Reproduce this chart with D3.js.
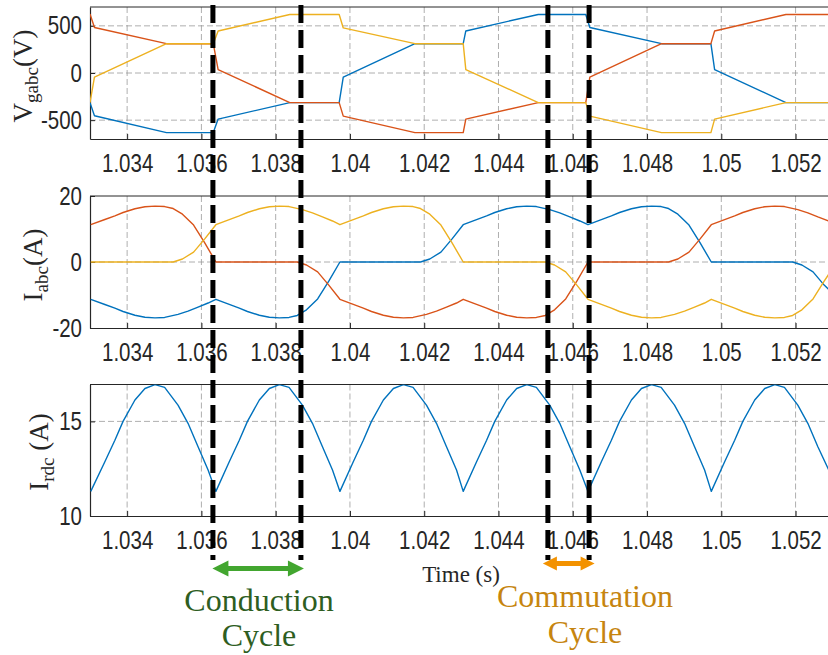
<!DOCTYPE html>
<html>
<head>
<meta charset="utf-8">
<script src="https://d3js.org/d3.v7.min.js"></script>
<style>
    body { margin: 0; background: #fff; }
    .tick text {
        font-family: "Liberation Sans", Arial, sans-serif;
        font-size: 25px;
        fill: #262626;
    }
    .axis path, .axis line { stroke: #262626; }
    .gridLine { stroke: #9a9a9a; stroke-width: 0.8; stroke-dasharray: 6,3; }
    .serif { font-family: "Liberation Serif", "Times New Roman", serif; }
</style>
</head>
<body>
<script>
(function(){

    // x axis
    var xTicks = [1.034, 1.036, 1.038, 1.04, 1.042, 1.044, 1.046, 1.048, 1.05, 1.052];
    var xTickLabels = ["1.034", "1.036", "1.038", "1.04", "1.042", "1.044", "1.046", "1.048", "1.05", "1.052"];

    // panel 1: V_gabc
    var vTime = [1.0330, 1.03312, 1.03506, 1.03632, 1.03645, 1.03838, 1.03971, 1.03982, 1.04175, 1.04305,
                 1.04312, 1.04507, 1.04635, 1.04646, 1.04839, 1.04972, 1.04982, 1.05174, 1.0529];
    var vgA = [-314, -454, -632, -632, -489, -314, -314, -43, 311, 311, 446, 621, 621, 482, 311, 311, 36, -314, -314];
    var vgB = [625, 482, 311, 311, 36, -314, -314, -457, -632, -632, -489, -314, -314, -43, 311, 311, 446, 621, 621];
    var vgC = [-314, -43, 311, 311, 446, 621, 621, 478, 311, 311, 36, -314, -314, -457, -632, -632, -489, -314, -314];
    var vTicks = [-500, 0, 500];
    var vTickLabels = ["-500", "0", "500"];

    // panel 2: I_abc  [time, value]
    var iA = [[1.03302,-11.3],[1.0334,-12.87],[1.03367,-14.0],[1.03389,-15.0],[1.03421,-16.13],[1.03448,-16.74],[1.03475,-16.94],[1.03501,-16.8],[1.03537,-15.86],[1.03564,-14.9],[1.03591,-13.66],[1.03618,-12.43],[1.03639,-11.3],
        [1.03675,-12.87],[1.03702,-14.0],[1.03724,-15.0],[1.03756,-16.13],[1.03783,-16.74],[1.0381,-16.94],[1.03836,-16.8],[1.03858,-16.2],[1.03883,-14.5],[1.03913,-11.2],[1.03943,-5.8],[1.03973,0],
        [1.0419,0],[1.04215,0.9],[1.04245,3.0],[1.04275,7.0],[1.04305,11.3],
        [1.04341,12.87],[1.04368,14.0],[1.0439,15.0],[1.04422,16.13],[1.04449,16.74],[1.04476,16.94],[1.04502,16.8],[1.04538,15.86],[1.04565,14.9],[1.04592,13.66],[1.04619,12.43],[1.04641,11.3],
        [1.04677,12.87],[1.04704,14.0],[1.04726,15.0],[1.04758,16.13],[1.04785,16.74],[1.04812,16.94],[1.04838,16.8],[1.04858,16.2],[1.04883,14.5],[1.04913,11.2],[1.04943,5.8],[1.04973,0],
        [1.05192,0],[1.05217,-0.9],[1.05247,-3.0],[1.05277,-7.0],[1.0529,-8.4]];
    var iB = [[1.03302,11.3],[1.0334,12.87],[1.03367,14.0],[1.03389,15.0],[1.03421,16.13],[1.03448,16.74],[1.03475,16.94],[1.03501,16.8],[1.03524,16.2],[1.03549,14.5],[1.03579,11.2],[1.03609,5.8],[1.03639,0],
        [1.03858,0],[1.03883,-0.9],[1.03913,-3.0],[1.03943,-7.0],[1.03973,-11.3],
        [1.04009,-12.87],[1.04036,-14.0],[1.04058,-15.0],[1.0409,-16.13],[1.04117,-16.74],[1.04144,-16.94],[1.0417,-16.8],[1.04206,-15.86],[1.04233,-14.9],[1.0426,-13.66],[1.04287,-12.43],[1.04305,-11.3],
        [1.04341,-12.87],[1.04368,-14.0],[1.0439,-15.0],[1.04422,-16.13],[1.04449,-16.74],[1.04476,-16.94],[1.04502,-16.8],[1.04526,-16.2],[1.04551,-14.5],[1.04581,-11.2],[1.04611,-5.8],[1.04641,0],
        [1.04858,0],[1.04883,0.9],[1.04913,3.0],[1.04943,7.0],[1.04973,11.3],
        [1.05009,12.87],[1.05036,14.0],[1.05058,15.0],[1.0509,16.13],[1.05117,16.74],[1.05144,16.94],[1.0517,16.8],[1.05206,15.86],[1.05233,14.9],[1.0526,13.66],[1.0529,12.4]];
    var iC = [[1.03302,0],[1.03524,0],[1.03549,0.9],[1.03579,3.0],[1.03609,7.0],[1.03639,11.3],
        [1.03675,12.87],[1.03702,14.0],[1.03724,15.0],[1.03756,16.13],[1.03783,16.74],[1.0381,16.94],[1.03836,16.8],[1.03872,15.86],[1.03899,14.9],[1.03926,13.66],[1.03953,12.43],[1.03973,11.3],
        [1.04009,12.87],[1.04036,14.0],[1.04058,15.0],[1.0409,16.13],[1.04117,16.74],[1.04144,16.94],[1.0417,16.8],[1.0419,16.2],[1.04215,14.5],[1.04245,11.2],[1.04275,5.8],[1.04305,0],
        [1.04526,0],[1.04551,-0.9],[1.04581,-3.0],[1.04611,-7.0],[1.04641,-11.3],
        [1.04677,-12.87],[1.04704,-14.0],[1.04726,-15.0],[1.04758,-16.13],[1.04785,-16.74],[1.04812,-16.94],[1.04838,-16.8],[1.04874,-15.86],[1.04901,-14.9],[1.04928,-13.66],[1.04955,-12.43],[1.04973,-11.3],
        [1.05009,-12.87],[1.05036,-14.0],[1.05058,-15.0],[1.0509,-16.13],[1.05117,-16.74],[1.05144,-16.94],[1.0517,-16.8],[1.05192,-16.2],[1.05217,-14.5],[1.05247,-11.2],[1.05277,-5.8],[1.0529,-3.6]];
    var iTicks = [-20, 0, 20];
    var iTickLabels = ["-20", "0", "20"];

    // panel 3: I_rdc
    var irdc = [[1.03302,11.3],[1.0334,12.87],[1.03367,14.0],[1.03389,15.0],[1.03421,16.13],[1.03448,16.74],[1.03475,16.94],[1.03501,16.8],[1.03537,15.86],[1.03564,14.9],[1.03591,13.66],[1.03618,12.43],
        [1.03639,11.3],[1.03675,12.87],[1.03702,14.0],[1.03724,15.0],[1.03756,16.13],[1.03783,16.74],[1.0381,16.94],[1.03836,16.8],[1.03872,15.86],[1.03899,14.9],[1.03926,13.66],[1.03953,12.43],
        [1.03973,11.3],[1.04009,12.87],[1.04036,14.0],[1.04058,15.0],[1.0409,16.13],[1.04117,16.74],[1.04144,16.94],[1.0417,16.8],[1.04206,15.86],[1.04233,14.9],[1.0426,13.66],[1.04287,12.43],
        [1.04305,11.3],[1.04341,12.87],[1.04368,14.0],[1.0439,15.0],[1.04422,16.13],[1.04449,16.74],[1.04476,16.94],[1.04502,16.8],[1.04538,15.86],[1.04565,14.9],[1.04592,13.66],[1.04619,12.43],
        [1.04641,11.3],[1.04677,12.87],[1.04704,14.0],[1.04726,15.0],[1.04758,16.13],[1.04785,16.74],[1.04812,16.94],[1.04838,16.8],[1.04874,15.86],[1.04901,14.9],[1.04928,13.66],[1.04955,12.43],
        [1.04973,11.3],[1.05009,12.87],[1.05036,14.0],[1.05058,15.0],[1.0509,16.13],[1.05117,16.74],[1.05144,16.94],[1.0517,16.8],[1.05206,15.86],[1.05233,14.9],[1.0526,13.66],[1.0529,12.4]];
    var rTicks = [10, 15];
    var rTickLabels = ["10", "15"];

    // dashed marker lines (s)
    var markerTimes = [1.03631, 1.03868, 1.04533, 1.04644];

    var colors = ["#0072BD", "#D95319", "#EDB120"];

    var width = 828, height = 655,
        squeeze = 0.82; // narrow the tick font like the original

    var svg = d3.select("body")
        .append("svg")
        .attr("width", width)
        .attr("height", height);

    svg.append("rect")
        .attr("width", width)
        .attr("height", height)
        .attr("fill", "#fff");

    var x = d3.scaleLinear()
        .domain([1.033, 1.0529])
        .range([90, 829]);

    function setPanel(id, top, bottom, yDomain, yTicks, yLabels){
        var y = d3.scaleLinear().domain(yDomain).range([bottom, top]);
        var g = svg.append("g").attr("class", "panel " + id);

        svg.append("clipPath")
            .attr("id", "clip-" + id)
            .append("rect")
            .attr("x", x.range()[0])
            .attr("y", top)
            .attr("width", x.range()[1] - x.range()[0])
            .attr("height", bottom - top);

        // grid
        g.selectAll(".gx")
            .data(xTicks)
            .enter()
            .append("line")
            .attr("class", "gridLine")
            .attr("x1", function(d){ return x(d); })
            .attr("x2", function(d){ return x(d); })
            .attr("y1", top)
            .attr("y2", bottom);

        g.selectAll(".gy")
            .data(yTicks.filter(function(d){ return y(d) > top + 1 && y(d) < bottom - 1; }))
            .enter()
            .append("line")
            .attr("class", "gridLine")
            .attr("x1", x.range()[0])
            .attr("x2", x.range()[1])
            .attr("y1", function(d){ return y(d); })
            .attr("y2", function(d){ return y(d); });

        // axes
        var xAxis = g.append("g")
            .attr("class", "axis")
            .attr("transform", "translate(0," + bottom + ")")
            .call(d3.axisBottom(x)
                .tickValues(xTicks)
                .tickFormat(function(d, i){ return xTickLabels[i]; })
                .tickSizeInner(-5)
                .tickSizeOuter(0)
                .tickPadding(15));
        xAxis.selectAll(".tick text")
            .attr("transform", "scale(" + squeeze + ",1)");

        var yAxis = g.append("g")
            .attr("class", "axis")
            .attr("transform", "translate(" + x.range()[0] + ",0)")
            .call(d3.axisLeft(y)
                .tickValues(yTicks)
                .tickFormat(function(d, i){ return yLabels[i]; })
                .tickSizeInner(-5)
                .tickSizeOuter(0)
                .tickPadding(8));
        yAxis.selectAll(".tick text")
            .attr("x", -8 / squeeze)
            .attr("transform", "scale(" + squeeze + ",1)");

        g.append("line")
            .attr("x1", x.range()[0])
            .attr("x2", x.range()[1])
            .attr("y1", top)
            .attr("y2", top)
            .attr("stroke", "#262626");

        g.selectAll(".axis .domain").attr("stroke-width", 1.2);

        var plot = g.append("g").attr("clip-path", "url(#clip-" + id + ")");

        return { y: y, plot: plot };
    };

    function addSeries(panel, pts, color){
        var line = d3.line()
            .x(function(d){ return x(d[0]); })
            .y(function(d){ return panel.y(d[1]); });
        panel.plot.append("path")
            .datum(pts)
            .attr("fill", "none")
            .attr("stroke", color)
            .attr("stroke-width", 1.4)
            .attr("stroke-linejoin", "round")
            .attr("d", line);
    };

    function yLabel(px, py, main, sub, unit){
        var t = svg.append("text")
            .attr("class", "serif")
            .attr("transform", "translate(" + px + "," + py + ") rotate(-90)")
            .attr("text-anchor", "middle")
            .attr("fill", "#262626")
            .attr("font-size", 27);
        t.append("tspan").text(main);
        t.append("tspan").attr("font-size", 19).attr("dy", 6).text(sub);
        t.append("tspan").attr("dy", -6).text(unit);
    };

    // top panel
    var p1 = setPanel("v", 7, 139, [-700, 700], vTicks, vTickLabels);
    [vgA, vgB, vgC].forEach(function(vals, k){
        addSeries(p1, vals.map(function(v, i){ return [vTime[i], v]; }), colors[k]);
    });

    // middle panel
    var p2 = setPanel("i", 196, 328, [-20, 20], iTicks, iTickLabels);
    [iA, iB, iC].forEach(function(pts, k){
        addSeries(p2, pts, colors[k]);
    });

    // bottom panel
    var p3 = setPanel("r", 384.5, 516, [10, 16.95], rTicks, rTickLabels);
    addSeries(p3, irdc, colors[0]);

    yLabel(32, 76, "V", "gabc", "(V)");
    yLabel(42, 265, "I", "abc", "(A)");
    yLabel(48, 452, "I", "rdc", " (A)");

    svg.append("text")
        .attr("class", "serif")
        .attr("x", 461)
        .attr("y", 582)
        .attr("text-anchor", "middle")
        .attr("fill", "#262626")
        .attr("font-size", 23)
        .text("Time (s)");

    // dashed markers
    svg.selectAll(".marker")
        .data(markerTimes)
        .enter()
        .append("line")
        .attr("class", "marker")
        .attr("x1", function(d){ return x(d); })
        .attr("x2", function(d){ return x(d); })
        .attr("y1", 5)
        .attr("y2", 560)
        .attr("stroke", "#000")
        .attr("stroke-width", 5)
        .attr("stroke-dasharray", "18,7");

    function doubleArrow(x1, x2, y, shaft, hl, hw, color){
        var s = shaft / 2;
        var d = "M" + x1 + "," + y +
            "L" + (x1 + hl) + "," + (y - hw) +
            "L" + (x1 + hl) + "," + (y - s) +
            "L" + (x2 - hl) + "," + (y - s) +
            "L" + (x2 - hl) + "," + (y - hw) +
            "L" + x2 + "," + y +
            "L" + (x2 - hl) + "," + (y + hw) +
            "L" + (x2 - hl) + "," + (y + s) +
            "L" + (x1 + hl) + "," + (y + s) +
            "L" + (x1 + hl) + "," + (y + hw) + "Z";
        svg.append("path").attr("d", d).attr("fill", color);
    };

    doubleArrow(x(markerTimes[0]) - 0.5, x(markerTimes[1]) + 3, 568.5, 5, 16, 8, "#42a62f");
    doubleArrow(x(markerTimes[2]) - 5, x(markerTimes[3]) + 5.5, 563.5, 5, 14, 7, "#f39200");

    function note(cx, y1, y2, l1, l2, color){
        svg.append("text").attr("class", "serif")
            .attr("x", cx).attr("y", y1)
            .attr("text-anchor", "middle").attr("font-size", 32)
            .attr("fill", color).text(l1);
        svg.append("text").attr("class", "serif")
            .attr("x", cx).attr("y", y2)
            .attr("text-anchor", "middle").attr("font-size", 32)
            .attr("fill", color).text(l2);
    };

    note(259, 611, 646, "Conduction", "Cycle", "#2e5e1f");
    note(585, 607, 643, "Commutation", "Cycle", "#c6850f");

})();
</script>
</body>
</html>
